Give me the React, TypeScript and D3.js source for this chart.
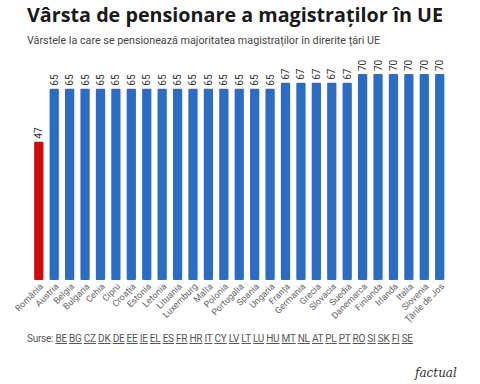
import * as d3 from "d3";

const countries = [
  "România", "Austria", "Belgia", "Bulgaria", "Cehia", "Cipru", "Croația", "Estonia",
  "Letonia", "Lituania", "Luxemburg", "Malta", "Polonia", "Portugalia", "Spania", "Ungaria",
  "Franța", "Germania", "Grecia", "Slovacia", "Suedia",
  "Danemarca", "Finlanda", "Irlanda", "Italia", "Slovenia", "Țările de Jos",
];
const ages = [
  47, 65, 65, 65, 65, 65, 65, 65, 65, 65, 65, 65, 65, 65, 65, 65,
  67, 67, 67, 67, 67,
  70, 70, 70, 70, 70, 70,
];
const sources = [
  "BE", "BG", "CZ", "DK", "DE", "EE", "IE", "EL", "ES", "FR", "HR", "IT", "CY", "LV",
  "LT", "LU", "HU", "MT", "NL", "AT", "PL", "PT", "RO", "SI", "SK", "FI", "SE",
];

const width = 480;
const height = 384;
const baseline = 280;
const font = "Roboto, 'Noto Sans', sans-serif";

export default function App() {
  const x = d3.scaleBand<string>().domain(countries).range([28, 450.5]).padding(0.4);
  const y = d3.scaleLinear().domain([0, 70]).range([baseline, 74]);

  const data = countries.map((c, i) => ({ country: c, age: ages[i] }));

  return (
    <svg
      width={width}
      height={height}
      style={{ position: "absolute", left: 0, top: 0, background: "#fff" }}
      fontFamily={font}
    >
      <text
        x={27}
        y={22}
        fontSize={20}
        fontWeight={700}
        fill="#1a1a1a"
        fontFamily="'Open Sans', sans-serif"
        textLength={416}
        lengthAdjust="spacingAndGlyphs"
      >
        Vârsta de pensionare a magistraților în UE
      </text>
      <text x={27} y={44} fontSize={11} fill="#444" textLength={353} lengthAdjust="spacingAndGlyphs">
        Vârstele la care se pensionează majoritatea magistraților în direrite țări UE
      </text>

      <g className="bars">
        {data.map((d) => (
          <rect
            key={d.country}
            x={x(d.country)}
            y={y(d.age)}
            width={x.bandwidth()}
            height={y(0) - y(d.age)}
            rx={1}
            fill={d.country === "România" ? "#d10a0a" : "#2d6cc5"}
          />
        ))}
      </g>

      <g className="labels">
        {data.map((d) => {
          const cx = (x(d.country) ?? 0) + x.bandwidth() / 2;
          const ty = y(d.age) - 3;
          return (
            <text
              key={d.country}
              transform={`translate(${cx + 3.5},${ty}) rotate(-90)`}
              fontSize={10}
              fill="#333"
            >
              {d.age}
            </text>
          );
        })}
      </g>

      <g className="x-axis">
        {countries.map((c) => {
          const cx = (x(c) ?? 0) + x.bandwidth() / 2;
          return (
            <text
              key={c}
              transform={`translate(${cx + 5},${baseline + 7}) rotate(-45)`}
              textAnchor="end"
              fontSize={9}
              fill="#666"
            >
              {c}
            </text>
          );
        })}
      </g>

      <text x={27} y={342} fontSize={10} fill="#555" textLength={386} lengthAdjust="spacing">
        <tspan>Surse: </tspan>
        {sources.map((s, i) => (
          <tspan key={s}>
            <tspan textDecoration="underline">{s}</tspan>
            {i < sources.length - 1 ? " " : ""}
          </tspan>
        ))}
      </text>

      <text x={415} y={377} fontSize={12} fontStyle="italic" fontFamily="'DejaVu Serif', serif" fill="#333">
        factual
      </text>
    </svg>
  );
}
